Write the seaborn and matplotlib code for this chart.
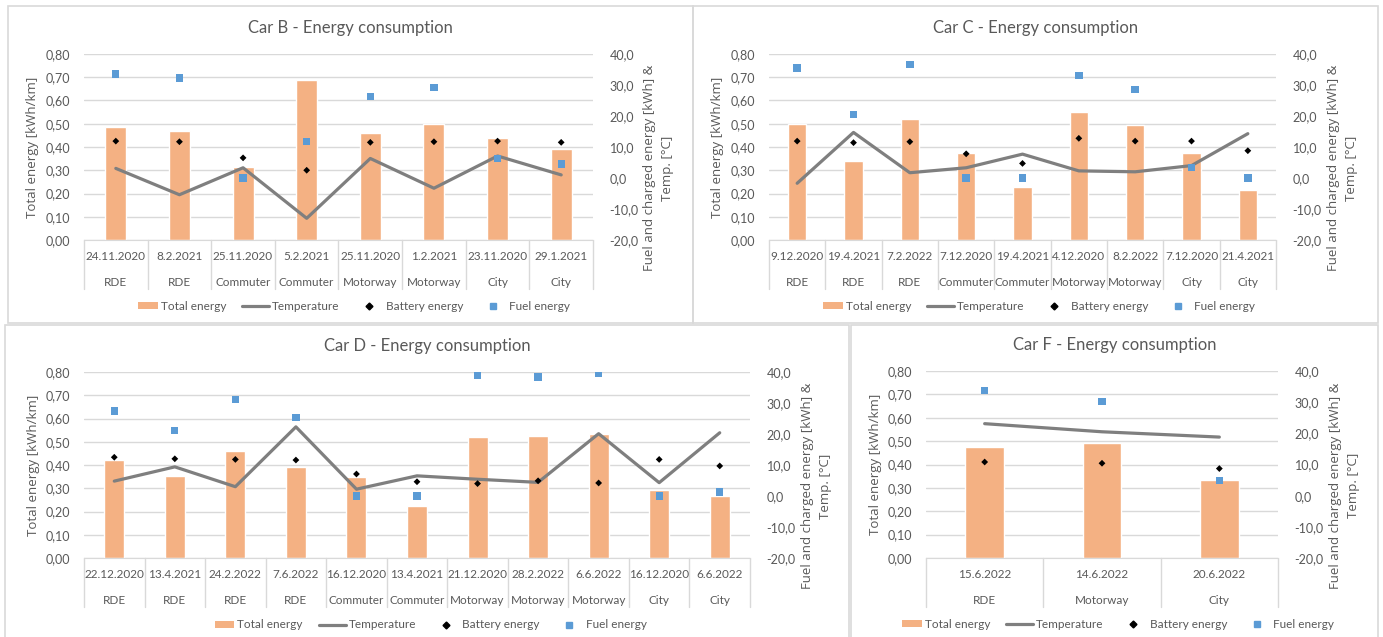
import matplotlib
matplotlib.use("Agg")
import matplotlib.pyplot as plt
import matplotlib.transforms as mtransforms
from matplotlib.legend_handler import HandlerPatch
from matplotlib.lines import Line2D
from matplotlib.patches import Patch, Rectangle
from matplotlib.ticker import FuncFormatter, MultipleLocator
import numpy as np
import pandas as pd
import seaborn as sns

# Ukuran gambar (piksel) dan warna gaya Excel
FIG_W, FIG_H = 1383, 637
DPI = 100
BAR_COLOR = "#F4B183"
LINE_COLOR = "#7F7F7F"
FUEL_COLOR = "#5B9BD5"
TEXT_COLOR = "#595959"
GRID_COLOR = "#D9D9D9"

# Car B
b_dates = ["24.11.2020", "8.2.2021", "25.11.2020", "5.2.2021", "25.11.2020", "1.2.2021", "23.11.2020", "29.1.2021"]
b_cycles = ["RDE", "RDE", "Commuter", "Commuter", "Motorway", "Motorway", "City", "City"]
b_total = [0.485, 0.467, 0.316, 0.690, 0.460, 0.497, 0.440, 0.393]
b_temp = [3.1, -5.4, 3.3, -13.0, 6.3, -3.3, 7.1, 1.0]
b_battery = [11.9, 11.7, 6.5, 2.5, 11.5, 11.7, 11.9, 11.5]
b_fuel = [33.5, 32.3, 0.0, 11.7, 26.3, 29.2, 6.2, 4.5]

# Car C
c_dates = ["9.12.2020", "19.4.2021", "7.2.2022", "7.12.2020", "19.4.2021", "4.12.2020", "8.2.2022", "7.12.2020", "21.4.2021"]
c_cycles = ["RDE", "RDE", "RDE", "Commuter", "Commuter", "Motorway", "Motorway", "City", "City"]
c_total = [0.500, 0.338, 0.519, 0.374, 0.229, 0.551, 0.495, 0.374, 0.215]
c_temp = [-1.7, 14.7, 1.7, 3.3, 7.7, 2.3, 2.0, 4.0, 14.3]
c_battery = [11.9, 11.4, 11.7, 7.8, 4.7, 12.8, 11.9, 11.9, 8.8]
c_fuel = [35.5, 20.4, 36.7, 0.0, 0.0, 33.0, 28.6, 3.4, 0.0]

# Car D
d_dates = ["22.12.2020", "13.4.2021", "24.2.2022", "7.6.2022", "16.12.2020", "13.4.2021",
           "21.12.2020", "28.2.2022", "6.6.2022", "16.12.2020", "6.6.2022"]
d_cycles = ["RDE", "RDE", "RDE", "RDE", "Commuter", "Commuter",
            "Motorway", "Motorway", "Motorway", "City", "City"]
d_total = [0.421, 0.354, 0.462, 0.393, 0.347, 0.225, 0.519, 0.526, 0.533, 0.292, 0.268]
d_temp = [4.8, 9.4, 3.0, 22.3, 2.2, 6.5, 5.4, 4.4, 20.1, 4.3, 20.4]
d_battery = [12.5, 12.0, 11.8, 11.6, 7.1, 4.6, 4.0, 4.9, 4.2, 11.8, 9.7]
d_fuel = [27.4, 21.2, 31.2, 25.3, 0.0, 0.0, 39.0, 38.4, 39.7, 0.0, 1.3]

# Car F
f_dates = ["15.6.2022", "14.6.2022", "20.6.2022"]
f_cycles = ["RDE", "Motorway", "City"]
f_total = [0.474, 0.491, 0.332]
f_temp = [23.1, 20.5, 18.8]
f_battery = [10.8, 10.4, 8.7]
f_fuel = [33.7, 30.2, 4.8]

# Kotak grafik: (kiri, atas, kanan, bawah) dalam piksel
# area plot: (kiri, kanan, atas, bawah) dalam piksel
PANELS = [
    dict(name="Car B", box=(8, 6, 693, 323), plot=(84, 593, 54, 240),
         dates=b_dates, cycles=b_cycles, total=b_total, temp=b_temp, battery=b_battery, fuel=b_fuel,
         ylab_x=33, rlab_x=659, title_y=28, legend_y=306),
    dict(name="Car C", box=(693, 6, 1378, 323), plot=(769, 1276, 54, 240),
         dates=c_dates, cycles=c_cycles, total=c_total, temp=c_temp, battery=c_battery, fuel=c_fuel,
         ylab_x=717, rlab_x=1343, title_y=28, legend_y=306),
    dict(name="Car D", box=(5, 325, 849, 700), plot=(84, 750, 372, 558),
         dates=d_dates, cycles=d_cycles, total=d_total, temp=d_temp, battery=d_battery, fuel=d_fuel,
         ylab_x=34, rlab_x=817, title_y=346, legend_y=625),
    dict(name="Car F", box=(851, 325, 1378, 700), plot=(926, 1278, 371, 558),
         dates=f_dates, cycles=f_cycles, total=f_total, temp=f_temp, battery=f_battery, fuel=f_fuel,
         ylab_x=876, rlab_x=1345, title_y=345, legend_y=624),
]


def fx(px):
    return px / FIG_W


def fy(py):
    return 1 - py / FIG_H


def small_bar(legend, orig_handle, xdescent, ydescent, width, height, fontsize):
    # kotak legenda ala Excel, lebih sempit dari handle
    return Rectangle((-xdescent + width * 0.27, -ydescent), width * 0.73, height)


def draw_panel(fig, p):
    l, t, r, b = p["box"]
    fig.patches.append(Rectangle((fx(l), fy(b)), fx(r - l), (b - t) / FIG_H,
                                 transform=fig.transFigure, fill=False,
                                 edgecolor=GRID_COLOR, linewidth=1.2))

    pl, pr, pt, pb = p["plot"]
    ax_h = pb - pt
    ax = fig.add_axes([fx(pl), fy(pb), fx(pr - pl), ax_h / FIG_H])
    n = len(p["total"])
    df = pd.DataFrame({
        "pos": np.arange(n),
        "total": p["total"],
        "temp": p["temp"],
        "battery": p["battery"],
        "fuel": p["fuel"],
    })

    sns.barplot(data=df, x="pos", y="total", color=BAR_COLOR, saturation=1,
                width=0.33, errorbar=None, ax=ax, zorder=2)
    ax.set_xlim(-0.5, n - 0.5)
    ax.set_ylim(0, 0.8)
    ax.yaxis.set_major_locator(MultipleLocator(0.1))
    ax.yaxis.set_major_formatter(FuncFormatter(lambda v, _: f"{v:.2f}".replace(".", ",")))
    ax.grid(axis="y", color=GRID_COLOR, linewidth=1)
    ax.set_axisbelow(True)
    ax.set_xticks([])
    ax.set_xlabel("")
    ax.set_ylabel("")
    for side in ["top", "left", "right"]:
        ax.spines[side].set_visible(False)
    ax.spines["bottom"].set_color(GRID_COLOR)
    ax.tick_params(axis="y", length=0, pad=10, labelsize=9, labelcolor=TEXT_COLOR)

    ax2 = ax.twinx()
    sns.lineplot(data=df, x="pos", y="temp", color=LINE_COLOR, linewidth=2.3, ax=ax2, zorder=3)
    sns.scatterplot(data=df, x="pos", y="battery", color="black", marker="D", s=12,
                    edgecolor="none", ax=ax2, zorder=4)
    sns.scatterplot(data=df, x="pos", y="fuel", color=FUEL_COLOR, marker="s", s=28,
                    edgecolor="none", ax=ax2, zorder=5)
    ax2.set_xlim(-0.5, n - 0.5)
    ax2.set_ylim(-20, 40)
    ax2.yaxis.set_major_locator(MultipleLocator(10))
    ax2.yaxis.set_major_formatter(FuncFormatter(lambda v, _: f"{v:.1f}".replace(".", ",")))
    ax2.set_xlabel("")
    ax2.set_ylabel("")
    for side in ["top", "left", "right", "bottom"]:
        ax2.spines[side].set_visible(False)
    ax2.tick_params(axis="y", length=0, pad=12, labelsize=9, labelcolor=TEXT_COLOR)

    # sumbu kategori dua tingkat ala Excel
    blend = mtransforms.blended_transform_factory(ax.transData, ax.transAxes)
    for i in range(n):
        ax.text(i, -17 / ax_h, p["dates"][i], transform=blend, ha="center", va="center",
                fontsize=8.5, color=TEXT_COLOR)
        ax.text(i, -42 / ax_h, p["cycles"][i], transform=blend, ha="center", va="center",
                fontsize=8.5, color=TEXT_COLOR)
    for i in range(n + 1):
        ax.plot([i - 0.5, i - 0.5], [0, -49 / ax_h], transform=blend, color=GRID_COLOR,
                linewidth=1, clip_on=False)

    fig.text(fx((l + r) / 2), fy(p["title_y"]), f"{p['name']} - Energy consumption",
             ha="center", va="center", fontsize=12, color=TEXT_COLOR)
    fig.text(fx(p["ylab_x"]), fy((pt + pb) / 2), "Total energy [kWh/km]", rotation=90,
             ha="center", va="center", fontsize=9.5, color=TEXT_COLOR, family="Open Sans")
    # judul sumbu kanan di Excel terpusat sedikit lebih rendah
    fig.text(fx(p["rlab_x"]), fy((pt + pb) / 2 + 21), "Fuel and charged energy [kWh] &\nTemp. [°C]",
             rotation=90, ha="center", va="center", multialignment="center",
             fontsize=9.5, color=TEXT_COLOR, family="Open Sans", linespacing=1.5)

    handles = [
        Patch(facecolor=BAR_COLOR, edgecolor="none", label="Total energy"),
        Line2D([], [], color=LINE_COLOR, linewidth=2.3, label="Temperature"),
        Line2D([], [], color="black", marker="D", markersize=3.5, linestyle="none", label="Battery energy"),
        Line2D([], [], color=FUEL_COLOR, marker="s", markersize=5, linestyle="none", label="Fuel energy"),
    ]
    fig.legend(handles=handles, loc="center", bbox_to_anchor=(fx((l + r) / 2), fy(p["legend_y"])),
               ncol=4, frameon=False, fontsize=8.5, labelcolor=TEXT_COLOR,
               handlelength=2.3, handleheight=0.6, handletextpad=0.25, columnspacing=1.35,
               handler_map={Patch: HandlerPatch(patch_func=small_bar)})


def main():
    sns.set_style("white")
    plt.rcParams["font.family"] = ["Lato", "DejaVu Sans"]
    fig = plt.figure(figsize=(FIG_W / DPI, FIG_H / DPI), dpi=DPI)
    fig.patch.set_facecolor("white")
    for p in PANELS:
        draw_panel(fig, p)
    fig.savefig("out.png", dpi=DPI, facecolor="white")
    plt.close(fig)


if __name__ == "__main__":
    main()
